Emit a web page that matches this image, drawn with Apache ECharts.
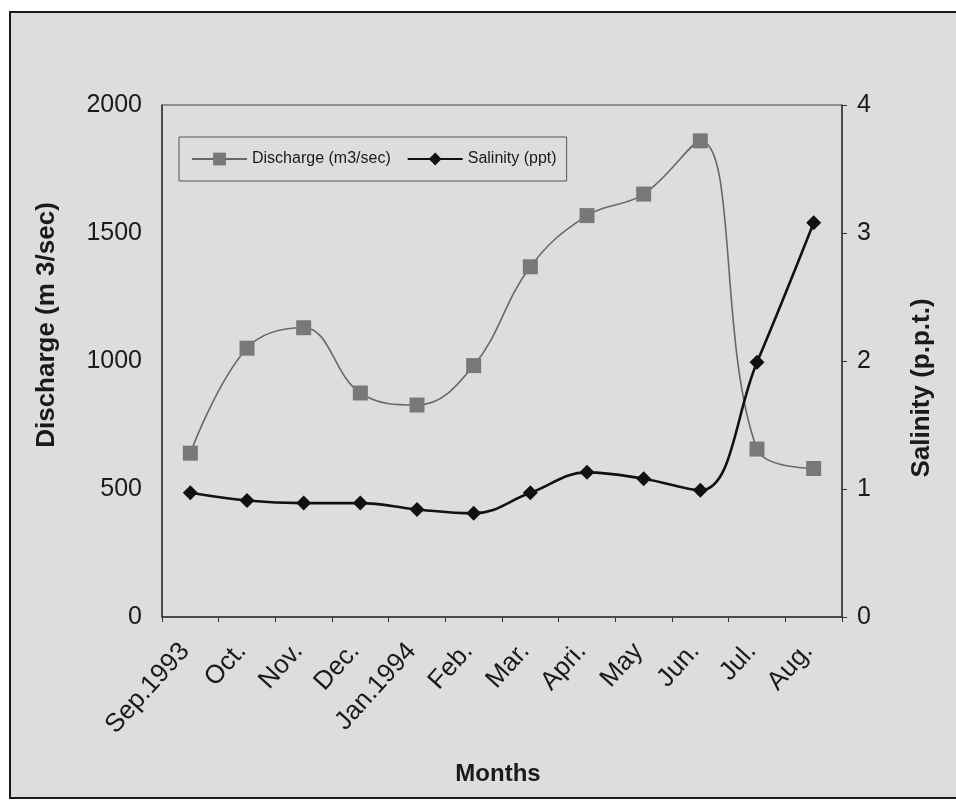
<!DOCTYPE html>
<html>
<head>
<meta charset="utf-8">
<script src="https://cdn.jsdelivr.net/npm/echarts@6/dist/echarts.min.js"></script>
<style>
html,body{margin:0;padding:0;background:#fff;}
#chart{width:956px;height:802px;}
</style>
</head>
<body>
<div id="chart"></div>
<script>
var categories = ['Sep.1993','Oct.','Nov.','Dec.','Jan.1994','Feb.','Mar.','Apri.','May','Jun.','Jul.','Aug.'];
var discharge = [640, 1050, 1130, 875, 828, 982, 1368, 1568, 1652, 1860, 656, 580];
var salinity = [0.97, 0.91, 0.89, 0.89, 0.84, 0.81, 0.97, 1.13, 1.08, 0.99, 1.99, 3.08];
var leftTicks = [0, 2000, 500];
var rightTicks = [0, 4, 1];

var FONT = '"Liberation Sans", Arial, sans-serif';
var chart = echarts.init(document.getElementById('chart'), null, {renderer:'canvas'});
chart.setOption({
  animation: false,
  backgroundColor: '#ffffff',
  graphic: [
    {type:'rect', z:-10, shape:{x:10, y:12, width:960, height:786},
     style:{fill:'#dfdcdf', stroke:'#1a1a1a', lineWidth:2}},
    {type:'text', z:10, x:498, y:774,
     style:{text:'Months', font:'bold 24px ' + FONT, fill:'#1a1a1a', align:'center', verticalAlign:'middle'}},
    {type:'text', z:10, x:47, y:325, rotation:Math.PI/2,
     style:{text:'Discharge (m 3/sec)', font:'bold 26px ' + FONT, fill:'#1a1a1a', align:'center', verticalAlign:'middle'}},
    {type:'text', z:10, x:922, y:388, rotation:Math.PI/2,
     style:{text:'Salinity (p.p.t.)', font:'bold 26px ' + FONT, fill:'#1a1a1a', align:'center', verticalAlign:'middle'}}
  ],
  grid: {left:162, top:105, width:680, height:512, show:true, borderColor:'#444', borderWidth:1, backgroundColor:'transparent'},
  legend: {
    left:179, top:137,
    padding:[14,10,14,12],
    itemGap:16, itemWidth:55, itemHeight:16,
    borderColor:'#555', borderWidth:1,
    textStyle:{fontFamily:FONT, fontSize:16, color:'#1a1a1a'},
    data:['Discharge (m3/sec)','Salinity (ppt)']
  },
  xAxis: {
    type:'category', data:categories, boundaryGap:true,
    axisLine:{lineStyle:{color:'#333', width:1.5}},
    axisTick:{show:true, inside:false, length:5, lineStyle:{color:'#333'}},
    axisLabel:{rotate:48, fontFamily:FONT, fontSize:26, color:'#1a1a1a', margin:24, padding:[0,8,0,0], interval:0}
  },
  yAxis: [
    {type:'value', min:leftTicks[0], max:leftTicks[1], interval:leftTicks[2],
     axisLine:{show:true, lineStyle:{color:'#333', width:1.5}},
     axisTick:{show:false}, splitLine:{show:false},
     axisLabel:{fontFamily:FONT, fontSize:25, color:'#1a1a1a', margin:20, formatter:function(v){return String(v);}}},
    {type:'value', min:rightTicks[0], max:rightTicks[1], interval:rightTicks[2], position:'right',
     axisLine:{show:true, lineStyle:{color:'#333', width:1.5}},
     axisTick:{show:true, length:5, lineStyle:{color:'#333'}}, splitLine:{show:false},
     axisLabel:{fontFamily:FONT, fontSize:25, color:'#1a1a1a', margin:15}}
  ],
  series: [
    {name:'Discharge (m3/sec)', type:'line', yAxisIndex:0, data:discharge, smooth:0.4,
     symbol:'rect', symbolSize:15,
     itemStyle:{color:'#7a777a'}, lineStyle:{color:'#6a676a', width:1.6}},
    {name:'Salinity (ppt)', type:'line', yAxisIndex:1, data:salinity, smooth:0.4,
     symbol:'diamond', symbolSize:15,
     itemStyle:{color:'#111'}, lineStyle:{color:'#111', width:2.6}}
  ]
});
</script>
</body>
</html>
